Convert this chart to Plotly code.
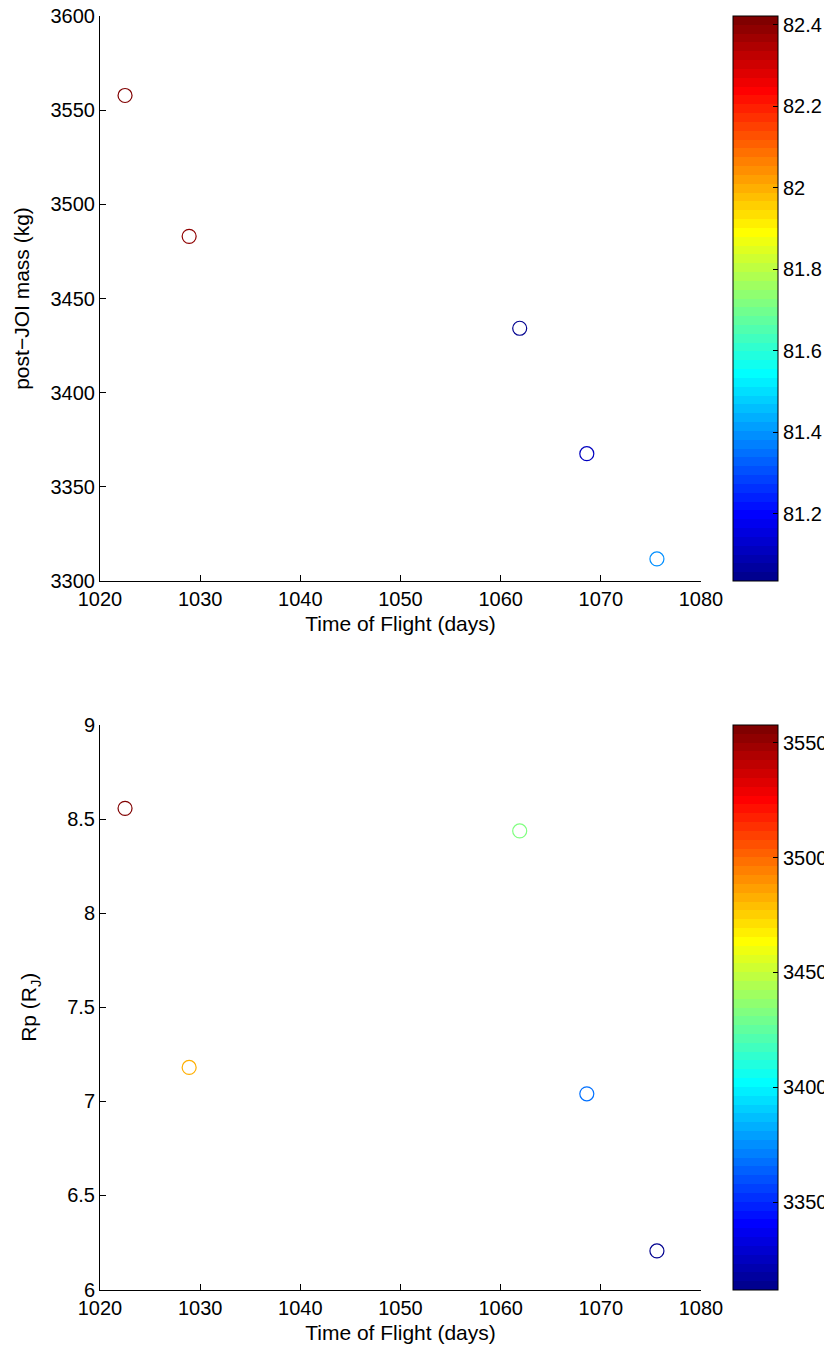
import numpy as np
import plotly.graph_objects as go

# ---- data ----
tof_days = [1022.5, 1028.9, 1061.9, 1068.6, 1075.6]
post_joi_mass = [3557.8, 3483.0, 3434.2, 3367.6, 3311.7]
top_color_value = [82.422, 82.40, 81.035, 81.11, 81.40]
rp_rj = [8.557, 7.18, 8.437, 7.04, 6.205]

x_ticks = [1020, 1030, 1040, 1050, 1060, 1070, 1080]
top_y_ticks = [3300, 3350, 3400, 3450, 3500, 3550, 3600]
bot_y_ticks = [6, 6.5, 7, 7.5, 8, 8.5, 9]
bot_y_ticktext = ["6", "6.5", "7", "7.5", "8", "8.5", "9"]
cb1_ticks = [81.2, 81.4, 81.6, 81.8, 82.0, 82.2, 82.4]
cb1_ticktext = ["81.2", "81.4", "81.6", "81.8", "82", "82.2", "82.4"]
cb2_ticks = [3350, 3400, 3450, 3500, 3550]

# ---- MATLAB jet(64) as a stepped colorscale ----
def jet(m=64):
    n = int(np.ceil(m / 4))
    u = np.concatenate([np.arange(1, n + 1) / n, np.ones(n - 1), np.arange(n, 0, -1) / n])
    g = int(np.ceil(n / 2)) - (1 if m % 4 == 1 else 0) + np.arange(1, len(u) + 1)
    r = g + n
    b = g - n
    J = np.zeros((m, 3))
    J[r[r <= m] - 1, 0] = u[r <= m]
    J[g[g <= m] - 1, 1] = u[g <= m]
    J[b[(b > 0) & (b <= m)] - 1, 2] = u[(b > 0) & (b <= m)]
    return J

J = jet(64)
scale = []
for i, c in enumerate(J):
    col = "rgb(%d,%d,%d)" % tuple(int(round(v * 255)) for v in c)
    scale.append([i / 64, col])
    scale.append([(i + 1) / 64, col])

# page body has an 8px margin: figure is drawn from (8, 8)
OFF = 8
W, H = 832 - OFF, 1352 - OFF
FONT = "Liberation Sans, Arial, Helvetica, sans-serif"
FS = 20
TFS = 21

def px_x(p):
    return (p - OFF) / W

def px_y(p):
    return 1 - (p - OFF) / H

fig = go.Figure()
fig.add_trace(go.Scatter(
    x=tof_days, y=post_joi_mass, mode="markers",
    marker=dict(symbol="circle-open", size=14, line=dict(width=1.2),
                color=top_color_value, coloraxis="coloraxis"),
    xaxis="x", yaxis="y", showlegend=False))
fig.add_trace(go.Scatter(
    x=tof_days, y=rp_rj, mode="markers",
    marker=dict(symbol="circle-open", size=14, line=dict(width=1.2),
                color=post_joi_mass, coloraxis="coloraxis2"),
    xaxis="x2", yaxis="y2", showlegend=False))

axis_common = dict(showline=True, linecolor="black", linewidth=1, mirror=False,
                   ticks="inside", ticklen=6, tickcolor="black", showgrid=False,
                   zeroline=False, automargin=False, ticklabeloverflow="allow",
                   tickfont=dict(family=FONT, size=FS, color="black"))

cb_common = dict(thickness=45, thicknessmode="pixels", len=565, lenmode="pixels",
                 x=px_x(733), xanchor="left", xpad=0, ypad=0, yanchor="middle",
                 outlinewidth=1, outlinecolor="black", ticks="inside", ticklen=5,
                 tickcolor="black", ticklabeloverflow="allow",
                 tickfont=dict(family=FONT, size=FS, color="black"))

tfont = dict(family=FONT, size=TFS, color="black")

fig.update_layout(
    width=W, height=H, margin=dict(l=0, r=0, t=0, b=0, pad=0, autoexpand=False),
    paper_bgcolor="white", plot_bgcolor="white",
    font=dict(family=FONT, size=FS, color="black"),
    xaxis=dict(domain=[px_x(100), px_x(701)], range=[1020, 1080], tickvals=x_ticks,
               anchor="y", title=dict(text="Time of Flight (days)", standoff=7, font=tfont),
               **axis_common),
    yaxis=dict(domain=[px_y(581), px_y(16)], range=[3300, 3600], tickvals=top_y_ticks,
               anchor="x", title=dict(text="post−JOI mass (kg)", standoff=15, font=tfont),
               **axis_common),
    xaxis2=dict(domain=[px_x(100), px_x(701)], range=[1020, 1080], tickvals=x_ticks,
                anchor="y2", title=dict(text="Time of Flight (days)", standoff=7, font=tfont),
                **axis_common),
    yaxis2=dict(domain=[px_y(1289.5), px_y(725)], range=[6, 9], tickvals=bot_y_ticks,
                ticktext=bot_y_ticktext, anchor="x2",
                title=dict(text="Rp (R<sub>J</sub>)", standoff=24, font=tfont),
                **axis_common),
    coloraxis=dict(colorscale=scale, cmin=min(top_color_value), cmax=max(top_color_value),
                   colorbar=dict(y=px_y(298.5), tickvals=cb1_ticks, ticktext=cb1_ticktext,
                                 **cb_common)),
    coloraxis2=dict(colorscale=scale, cmin=min(post_joi_mass), cmax=max(post_joi_mass),
                    colorbar=dict(y=px_y(1007.5), tickvals=cb2_ticks, **cb_common)),
)

fig.write_html("out.html")
